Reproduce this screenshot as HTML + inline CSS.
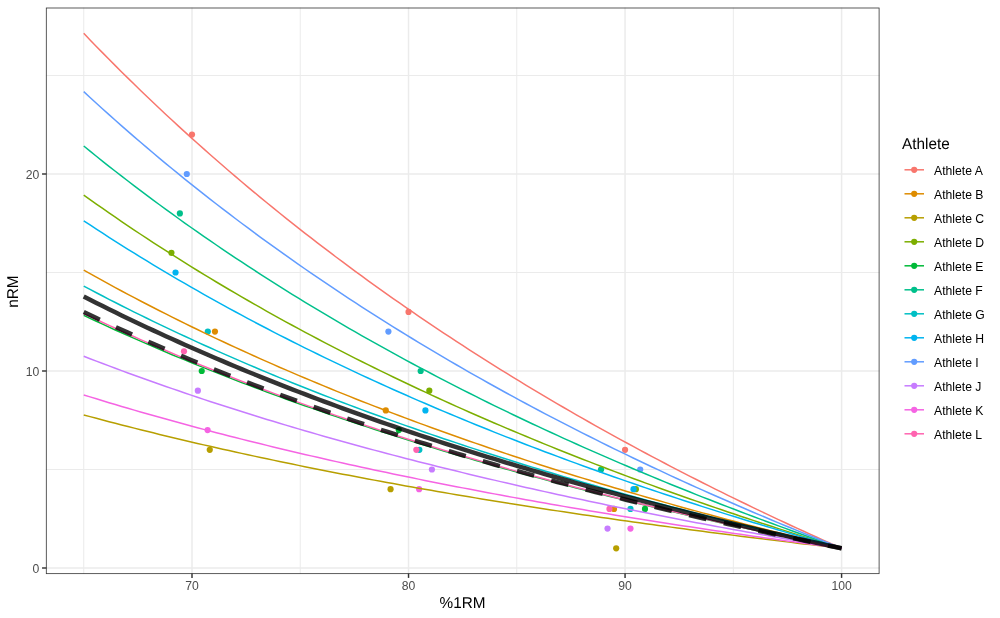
<!DOCTYPE html>
<html><head><meta charset="utf-8"><title>nRM vs %1RM</title>
<style>
html,body{margin:0;padding:0;background:#fff;}
svg{display:block;}
.ax{font-family:"Liberation Sans",Arial,sans-serif;font-size:12.2px;fill:#4D4D4D;}
.ti{text-rendering:geometricPrecision;font-family:"Liberation Sans",Arial,sans-serif;font-size:15.7px;fill:#000;}
.lg{font-family:"Liberation Sans",Arial,sans-serif;font-size:12.2px;fill:#000;}
</style></head><body>
<svg width="1000" height="618" viewBox="0 0 1000 618">
<rect x="0" y="0" width="1000" height="618" fill="#fff"/>
<line x1="83.74" y1="7.6" x2="83.74" y2="574.05" stroke="#EBEBEB" stroke-width="1"/>
<line x1="300.26" y1="7.6" x2="300.26" y2="574.05" stroke="#EBEBEB" stroke-width="1"/>
<line x1="516.79" y1="7.6" x2="516.79" y2="574.05" stroke="#EBEBEB" stroke-width="1"/>
<line x1="733.32" y1="7.6" x2="733.32" y2="574.05" stroke="#EBEBEB" stroke-width="1"/>
<line x1="45.9" y1="469.50" x2="879.5" y2="469.50" stroke="#EBEBEB" stroke-width="1"/>
<line x1="45.9" y1="272.50" x2="879.5" y2="272.50" stroke="#EBEBEB" stroke-width="1"/>
<line x1="45.9" y1="75.50" x2="879.5" y2="75.50" stroke="#EBEBEB" stroke-width="1"/>
<line x1="192.00" y1="7.6" x2="192.00" y2="574.05" stroke="#EBEBEB" stroke-width="1.5"/>
<line x1="408.53" y1="7.6" x2="408.53" y2="574.05" stroke="#EBEBEB" stroke-width="1.5"/>
<line x1="625.06" y1="7.6" x2="625.06" y2="574.05" stroke="#EBEBEB" stroke-width="1.5"/>
<line x1="841.59" y1="7.6" x2="841.59" y2="574.05" stroke="#EBEBEB" stroke-width="1.5"/>
<line x1="45.9" y1="568.00" x2="879.5" y2="568.00" stroke="#EBEBEB" stroke-width="1.5"/>
<line x1="45.9" y1="371.00" x2="879.5" y2="371.00" stroke="#EBEBEB" stroke-width="1.5"/>
<line x1="45.9" y1="174.00" x2="879.5" y2="174.00" stroke="#EBEBEB" stroke-width="1.5"/>
<circle cx="192.00" cy="134.60" r="3.1" fill="#F8766D"/>
<circle cx="408.53" cy="311.90" r="3.1" fill="#F8766D"/>
<circle cx="625.06" cy="449.80" r="3.1" fill="#F8766D"/>
<circle cx="214.95" cy="331.60" r="3.1" fill="#DE8C00"/>
<circle cx="385.79" cy="410.40" r="3.1" fill="#DE8C00"/>
<circle cx="614.02" cy="508.90" r="3.1" fill="#DE8C00"/>
<circle cx="209.76" cy="449.80" r="3.1" fill="#B79F00"/>
<circle cx="390.56" cy="489.20" r="3.1" fill="#B79F00"/>
<circle cx="616.18" cy="548.30" r="3.1" fill="#B79F00"/>
<circle cx="171.43" cy="252.80" r="3.1" fill="#7CAE00"/>
<circle cx="429.32" cy="390.70" r="3.1" fill="#7CAE00"/>
<circle cx="635.89" cy="489.20" r="3.1" fill="#7CAE00"/>
<circle cx="201.74" cy="371.00" r="3.1" fill="#00BA38"/>
<circle cx="398.79" cy="430.10" r="3.1" fill="#00BA38"/>
<circle cx="644.98" cy="508.90" r="3.1" fill="#00BA38"/>
<circle cx="179.87" cy="213.40" r="3.1" fill="#00C08B"/>
<circle cx="420.66" cy="371.00" r="3.1" fill="#00C08B"/>
<circle cx="601.03" cy="469.50" r="3.1" fill="#00C08B"/>
<circle cx="207.81" cy="331.60" r="3.1" fill="#00BFC4"/>
<circle cx="419.36" cy="449.80" r="3.1" fill="#00BFC4"/>
<circle cx="630.47" cy="508.90" r="3.1" fill="#00BFC4"/>
<circle cx="175.54" cy="272.50" r="3.1" fill="#00B4F0"/>
<circle cx="425.42" cy="410.40" r="3.1" fill="#00B4F0"/>
<circle cx="633.50" cy="489.20" r="3.1" fill="#00B4F0"/>
<circle cx="186.80" cy="174.00" r="3.1" fill="#619CFF"/>
<circle cx="388.39" cy="331.60" r="3.1" fill="#619CFF"/>
<circle cx="640.22" cy="469.50" r="3.1" fill="#619CFF"/>
<circle cx="197.85" cy="390.70" r="3.1" fill="#C77CFF"/>
<circle cx="431.92" cy="469.50" r="3.1" fill="#C77CFF"/>
<circle cx="607.52" cy="528.60" r="3.1" fill="#C77CFF"/>
<circle cx="207.59" cy="430.10" r="3.1" fill="#F564E3"/>
<circle cx="419.14" cy="489.20" r="3.1" fill="#F564E3"/>
<circle cx="630.47" cy="528.60" r="3.1" fill="#F564E3"/>
<circle cx="183.99" cy="351.30" r="3.1" fill="#FF64B0"/>
<circle cx="416.33" cy="449.80" r="3.1" fill="#FF64B0"/>
<circle cx="609.47" cy="508.90" r="3.1" fill="#FF64B0"/>
<path d="M83.74,33.34 L90.05,39.91 L96.37,46.43 L102.68,52.88 L109.00,59.28 L115.31,65.63 L121.63,71.92 L127.94,78.15 L134.26,84.33 L140.57,90.45 L146.89,96.53 L153.21,102.55 L159.52,108.52 L165.84,114.44 L172.15,120.31 L178.47,126.13 L184.78,131.90 L191.10,137.62 L197.41,143.30 L203.73,148.93 L210.04,154.51 L216.36,160.05 L222.68,165.54 L228.99,170.98 L235.31,176.39 L241.62,181.74 L247.94,187.06 L254.25,192.33 L260.57,197.57 L266.88,202.76 L273.20,207.90 L279.51,213.01 L285.83,218.08 L292.15,223.11 L298.46,228.10 L304.78,233.05 L311.09,237.96 L317.41,242.84 L323.72,247.67 L330.04,252.47 L336.35,257.24 L342.67,261.96 L348.98,266.66 L355.30,271.31 L361.62,275.93 L367.93,280.52 L374.25,285.07 L380.56,289.59 L386.88,294.08 L393.19,298.53 L399.51,302.95 L405.82,307.34 L412.14,311.70 L418.45,316.02 L424.77,320.32 L431.09,324.58 L437.40,328.81 L443.72,333.01 L450.03,337.18 L456.35,341.32 L462.66,345.44 L468.98,349.52 L475.29,353.58 L481.61,357.60 L487.92,361.60 L494.24,365.57 L500.56,369.52 L506.87,373.43 L513.19,377.32 L519.50,381.18 L525.82,385.02 L532.13,388.83 L538.45,392.62 L544.76,396.37 L551.08,400.11 L557.39,403.82 L563.71,407.50 L570.03,411.16 L576.34,414.79 L582.66,418.40 L588.97,421.99 L595.29,425.55 L601.60,429.09 L607.92,432.61 L614.23,436.10 L620.55,439.57 L626.86,443.02 L633.18,446.45 L639.50,449.85 L645.81,453.23 L652.13,456.60 L658.44,459.93 L664.76,463.25 L671.07,466.55 L677.39,469.83 L683.70,473.08 L690.02,476.32 L696.33,479.53 L702.65,482.73 L708.97,485.90 L715.28,489.06 L721.60,492.19 L727.91,495.31 L734.23,498.41 L740.54,501.49 L746.86,504.55 L753.17,507.59 L759.49,510.61 L765.80,513.61 L772.12,516.60 L778.44,519.57 L784.75,522.52 L791.07,525.45 L797.38,528.37 L803.70,531.27 L810.01,534.15 L816.33,537.01 L822.64,539.86 L828.96,542.69 L835.27,545.50 L841.59,548.30" fill="none" stroke="#F8766D" stroke-width="1.5"/>
<path d="M83.74,270.14 L90.05,273.69 L96.37,277.20 L102.68,280.69 L109.00,284.15 L115.31,287.58 L121.63,290.97 L127.94,294.34 L134.26,297.68 L140.57,300.99 L146.89,304.27 L153.21,307.52 L159.52,310.74 L165.84,313.94 L172.15,317.11 L178.47,320.26 L184.78,323.37 L191.10,326.46 L197.41,329.53 L203.73,332.57 L210.04,335.59 L216.36,338.58 L222.68,341.54 L228.99,344.49 L235.31,347.40 L241.62,350.30 L247.94,353.17 L254.25,356.02 L260.57,358.84 L266.88,361.65 L273.20,364.43 L279.51,367.19 L285.83,369.93 L292.15,372.64 L298.46,375.34 L304.78,378.01 L311.09,380.66 L317.41,383.30 L323.72,385.91 L330.04,388.50 L336.35,391.08 L342.67,393.63 L348.98,396.16 L355.30,398.68 L361.62,401.18 L367.93,403.65 L374.25,406.11 L380.56,408.56 L386.88,410.98 L393.19,413.38 L399.51,415.77 L405.82,418.14 L412.14,420.49 L418.45,422.83 L424.77,425.15 L431.09,427.45 L437.40,429.74 L443.72,432.01 L450.03,434.26 L456.35,436.50 L462.66,438.72 L468.98,440.93 L475.29,443.12 L481.61,445.29 L487.92,447.45 L494.24,449.60 L500.56,451.73 L506.87,453.84 L513.19,455.94 L519.50,458.03 L525.82,460.10 L532.13,462.16 L538.45,464.20 L544.76,466.23 L551.08,468.25 L557.39,470.25 L563.71,472.24 L570.03,474.22 L576.34,476.18 L582.66,478.13 L588.97,480.07 L595.29,482.00 L601.60,483.91 L607.92,485.81 L614.23,487.69 L620.55,489.57 L626.86,491.43 L633.18,493.28 L639.50,495.12 L645.81,496.95 L652.13,498.76 L658.44,500.57 L664.76,502.36 L671.07,504.14 L677.39,505.91 L683.70,507.67 L690.02,509.42 L696.33,511.15 L702.65,512.88 L708.97,514.59 L715.28,516.30 L721.60,517.99 L727.91,519.68 L734.23,521.35 L740.54,523.01 L746.86,524.67 L753.17,526.31 L759.49,527.94 L765.80,529.56 L772.12,531.18 L778.44,532.78 L784.75,534.37 L791.07,535.96 L797.38,537.53 L803.70,539.10 L810.01,540.65 L816.33,542.20 L822.64,543.74 L828.96,545.27 L835.27,546.79 L841.59,548.30" fill="none" stroke="#DE8C00" stroke-width="1.5"/>
<path d="M83.74,414.93 L90.05,416.63 L96.37,418.32 L102.68,419.99 L109.00,421.65 L115.31,423.29 L121.63,424.92 L127.94,426.54 L134.26,428.14 L140.57,429.72 L146.89,431.30 L153.21,432.85 L159.52,434.40 L165.84,435.93 L172.15,437.45 L178.47,438.96 L184.78,440.46 L191.10,441.94 L197.41,443.41 L203.73,444.87 L210.04,446.31 L216.36,447.75 L222.68,449.17 L228.99,450.58 L235.31,451.98 L241.62,453.37 L247.94,454.74 L254.25,456.11 L260.57,457.46 L266.88,458.81 L273.20,460.14 L279.51,461.46 L285.83,462.78 L292.15,464.08 L298.46,465.37 L304.78,466.65 L311.09,467.93 L317.41,469.19 L323.72,470.44 L330.04,471.68 L336.35,472.92 L342.67,474.14 L348.98,475.36 L355.30,476.56 L361.62,477.76 L367.93,478.95 L374.25,480.13 L380.56,481.30 L386.88,482.46 L393.19,483.61 L399.51,484.76 L405.82,485.89 L412.14,487.02 L418.45,488.14 L424.77,489.25 L431.09,490.36 L437.40,491.45 L443.72,492.54 L450.03,493.62 L456.35,494.70 L462.66,495.76 L468.98,496.82 L475.29,497.87 L481.61,498.91 L487.92,499.95 L494.24,500.98 L500.56,502.00 L506.87,503.01 L513.19,504.02 L519.50,505.02 L525.82,506.01 L532.13,507.00 L538.45,507.98 L544.76,508.95 L551.08,509.92 L557.39,510.88 L563.71,511.83 L570.03,512.78 L576.34,513.72 L582.66,514.66 L588.97,515.59 L595.29,516.51 L601.60,517.43 L607.92,518.34 L614.23,519.24 L620.55,520.14 L626.86,521.03 L633.18,521.92 L639.50,522.80 L645.81,523.68 L652.13,524.55 L658.44,525.41 L664.76,526.27 L671.07,527.13 L677.39,527.98 L683.70,528.82 L690.02,529.66 L696.33,530.49 L702.65,531.32 L708.97,532.14 L715.28,532.96 L721.60,533.77 L727.91,534.58 L734.23,535.38 L740.54,536.18 L746.86,536.97 L753.17,537.76 L759.49,538.54 L765.80,539.32 L772.12,540.09 L778.44,540.86 L784.75,541.62 L791.07,542.38 L797.38,543.14 L803.70,543.89 L810.01,544.63 L816.33,545.38 L822.64,546.11 L828.96,546.85 L835.27,547.58 L841.59,548.30" fill="none" stroke="#B79F00" stroke-width="1.5"/>
<path d="M83.74,195.08 L90.05,199.59 L96.37,204.06 L102.68,208.48 L109.00,212.87 L115.31,217.22 L121.63,221.54 L127.94,225.81 L134.26,230.05 L140.57,234.25 L146.89,238.42 L153.21,242.55 L159.52,246.64 L165.84,250.70 L172.15,254.73 L178.47,258.72 L184.78,262.68 L191.10,266.61 L197.41,270.50 L203.73,274.36 L210.04,278.19 L216.36,281.99 L222.68,285.75 L228.99,289.49 L235.31,293.20 L241.62,296.87 L247.94,300.52 L254.25,304.14 L260.57,307.72 L266.88,311.28 L273.20,314.81 L279.51,318.32 L285.83,321.80 L292.15,325.24 L298.46,328.67 L304.78,332.06 L311.09,335.43 L317.41,338.78 L323.72,342.09 L330.04,345.39 L336.35,348.65 L342.67,351.90 L348.98,355.11 L355.30,358.31 L361.62,361.48 L367.93,364.63 L374.25,367.75 L380.56,370.85 L386.88,373.93 L393.19,376.98 L399.51,380.01 L405.82,383.02 L412.14,386.01 L418.45,388.98 L424.77,391.92 L431.09,394.84 L437.40,397.75 L443.72,400.63 L450.03,403.49 L456.35,406.33 L462.66,409.15 L468.98,411.95 L475.29,414.73 L481.61,417.50 L487.92,420.24 L494.24,422.96 L500.56,425.67 L506.87,428.35 L513.19,431.02 L519.50,433.67 L525.82,436.30 L532.13,438.92 L538.45,441.51 L544.76,444.09 L551.08,446.65 L557.39,449.19 L563.71,451.72 L570.03,454.23 L576.34,456.72 L582.66,459.20 L588.97,461.66 L595.29,464.10 L601.60,466.53 L607.92,468.94 L614.23,471.34 L620.55,473.72 L626.86,476.09 L633.18,478.44 L639.50,480.77 L645.81,483.09 L652.13,485.40 L658.44,487.69 L664.76,489.96 L671.07,492.23 L677.39,494.47 L683.70,496.71 L690.02,498.93 L696.33,501.13 L702.65,503.32 L708.97,505.50 L715.28,507.66 L721.60,509.81 L727.91,511.95 L734.23,514.08 L740.54,516.19 L746.86,518.29 L753.17,520.37 L759.49,522.45 L765.80,524.51 L772.12,526.56 L778.44,528.59 L784.75,530.62 L791.07,532.63 L797.38,534.63 L803.70,536.62 L810.01,538.59 L816.33,540.56 L822.64,542.51 L828.96,544.45 L835.27,546.38 L841.59,548.30" fill="none" stroke="#7CAE00" stroke-width="1.5"/>
<path d="M83.74,315.35 L90.05,318.32 L96.37,321.27 L102.68,324.19 L109.00,327.08 L115.31,329.95 L121.63,332.80 L127.94,335.62 L134.26,338.41 L140.57,341.18 L146.89,343.93 L153.21,346.65 L159.52,349.36 L165.84,352.03 L172.15,354.69 L178.47,357.32 L184.78,359.93 L191.10,362.52 L197.41,365.09 L203.73,367.63 L210.04,370.16 L216.36,372.66 L222.68,375.15 L228.99,377.61 L235.31,380.06 L241.62,382.48 L247.94,384.89 L254.25,387.27 L260.57,389.64 L266.88,391.99 L273.20,394.31 L279.51,396.63 L285.83,398.92 L292.15,401.19 L298.46,403.45 L304.78,405.69 L311.09,407.91 L317.41,410.12 L323.72,412.30 L330.04,414.48 L336.35,416.63 L342.67,418.77 L348.98,420.89 L355.30,423.00 L361.62,425.09 L367.93,427.16 L374.25,429.22 L380.56,431.27 L386.88,433.30 L393.19,435.31 L399.51,437.31 L405.82,439.30 L412.14,441.27 L418.45,443.22 L424.77,445.17 L431.09,447.09 L437.40,449.01 L443.72,450.91 L450.03,452.80 L456.35,454.67 L462.66,456.53 L468.98,458.38 L475.29,460.21 L481.61,462.03 L487.92,463.84 L494.24,465.64 L500.56,467.42 L506.87,469.19 L513.19,470.95 L519.50,472.70 L525.82,474.44 L532.13,476.16 L538.45,477.87 L544.76,479.57 L551.08,481.26 L557.39,482.94 L563.71,484.61 L570.03,486.26 L576.34,487.90 L582.66,489.54 L588.97,491.16 L595.29,492.77 L601.60,494.37 L607.92,495.96 L614.23,497.54 L620.55,499.12 L626.86,500.68 L633.18,502.23 L639.50,503.76 L645.81,505.30 L652.13,506.82 L658.44,508.33 L664.76,509.83 L671.07,511.32 L677.39,512.80 L683.70,514.27 L690.02,515.74 L696.33,517.19 L702.65,518.64 L708.97,520.07 L715.28,521.50 L721.60,522.92 L727.91,524.33 L734.23,525.73 L740.54,527.12 L746.86,528.51 L753.17,529.88 L759.49,531.25 L765.80,532.61 L772.12,533.96 L778.44,535.30 L784.75,536.64 L791.07,537.96 L797.38,539.28 L803.70,540.59 L810.01,541.90 L816.33,543.19 L822.64,544.48 L828.96,545.76 L835.27,547.03 L841.59,548.30" fill="none" stroke="#00BA38" stroke-width="1.5"/>
<path d="M83.74,146.03 L90.05,151.16 L96.37,156.25 L102.68,161.29 L109.00,166.29 L115.31,171.25 L121.63,176.16 L127.94,181.03 L134.26,185.86 L140.57,190.64 L146.89,195.38 L153.21,200.09 L159.52,204.75 L165.84,209.38 L172.15,213.96 L178.47,218.51 L184.78,223.02 L191.10,227.49 L197.41,231.92 L203.73,236.32 L210.04,240.68 L216.36,245.00 L222.68,249.29 L228.99,253.55 L235.31,257.77 L241.62,261.96 L247.94,266.11 L254.25,270.23 L260.57,274.31 L266.88,278.37 L273.20,282.39 L279.51,286.38 L285.83,290.34 L292.15,294.27 L298.46,298.17 L304.78,302.03 L311.09,305.87 L317.41,309.68 L323.72,313.46 L330.04,317.21 L336.35,320.93 L342.67,324.62 L348.98,328.29 L355.30,331.92 L361.62,335.53 L367.93,339.12 L374.25,342.67 L380.56,346.20 L386.88,349.71 L393.19,353.19 L399.51,356.64 L405.82,360.07 L412.14,363.47 L418.45,366.85 L424.77,370.20 L431.09,373.53 L437.40,376.84 L443.72,380.12 L450.03,383.38 L456.35,386.62 L462.66,389.83 L468.98,393.02 L475.29,396.19 L481.61,399.33 L487.92,402.46 L494.24,405.56 L500.56,408.64 L506.87,411.70 L513.19,414.74 L519.50,417.75 L525.82,420.75 L532.13,423.73 L538.45,426.68 L544.76,429.62 L551.08,432.53 L557.39,435.43 L563.71,438.31 L570.03,441.17 L576.34,444.01 L582.66,446.83 L588.97,449.63 L595.29,452.41 L601.60,455.18 L607.92,457.92 L614.23,460.65 L620.55,463.37 L626.86,466.06 L633.18,468.74 L639.50,471.39 L645.81,474.04 L652.13,476.66 L658.44,479.27 L664.76,481.86 L671.07,484.44 L677.39,487.00 L683.70,489.54 L690.02,492.07 L696.33,494.58 L702.65,497.08 L708.97,499.56 L715.28,502.02 L721.60,504.47 L727.91,506.91 L734.23,509.32 L740.54,511.73 L746.86,514.12 L753.17,516.50 L759.49,518.86 L765.80,521.20 L772.12,523.54 L778.44,525.86 L784.75,528.16 L791.07,530.45 L797.38,532.73 L803.70,534.99 L810.01,537.24 L816.33,539.48 L822.64,541.71 L828.96,543.92 L835.27,546.11 L841.59,548.30" fill="none" stroke="#00C08B" stroke-width="1.5"/>
<path d="M83.74,286.09 L90.05,289.44 L96.37,292.76 L102.68,296.04 L109.00,299.30 L115.31,302.53 L121.63,305.73 L127.94,308.91 L134.26,312.05 L140.57,315.17 L146.89,318.27 L153.21,321.33 L159.52,324.37 L165.84,327.39 L172.15,330.37 L178.47,333.34 L184.78,336.28 L191.10,339.19 L197.41,342.08 L203.73,344.95 L210.04,347.79 L216.36,350.61 L222.68,353.40 L228.99,356.18 L235.31,358.93 L241.62,361.66 L247.94,364.36 L254.25,367.05 L260.57,369.71 L266.88,372.36 L273.20,374.98 L279.51,377.58 L285.83,380.16 L292.15,382.72 L298.46,385.26 L304.78,387.78 L311.09,390.28 L317.41,392.76 L323.72,395.23 L330.04,397.67 L336.35,400.10 L342.67,402.50 L348.98,404.89 L355.30,407.26 L361.62,409.62 L367.93,411.95 L374.25,414.27 L380.56,416.57 L386.88,418.86 L393.19,421.12 L399.51,423.37 L405.82,425.61 L412.14,427.83 L418.45,430.03 L424.77,432.21 L431.09,434.38 L437.40,436.54 L443.72,438.68 L450.03,440.80 L456.35,442.91 L462.66,445.01 L468.98,447.09 L475.29,449.15 L481.61,451.20 L487.92,453.24 L494.24,455.26 L500.56,457.27 L506.87,459.26 L513.19,461.24 L519.50,463.21 L525.82,465.16 L532.13,467.10 L538.45,469.03 L544.76,470.94 L551.08,472.84 L557.39,474.73 L563.71,476.61 L570.03,478.47 L576.34,480.32 L582.66,482.16 L588.97,483.99 L595.29,485.80 L601.60,487.60 L607.92,489.39 L614.23,491.17 L620.55,492.94 L626.86,494.69 L633.18,496.44 L639.50,498.17 L645.81,499.89 L652.13,501.61 L658.44,503.31 L664.76,505.00 L671.07,506.67 L677.39,508.34 L683.70,510.00 L690.02,511.65 L696.33,513.28 L702.65,514.91 L708.97,516.53 L715.28,518.13 L721.60,519.73 L727.91,521.32 L734.23,522.90 L740.54,524.46 L746.86,526.02 L753.17,527.57 L759.49,529.11 L765.80,530.64 L772.12,532.16 L778.44,533.67 L784.75,535.17 L791.07,536.67 L797.38,538.15 L803.70,539.63 L810.01,541.09 L816.33,542.55 L822.64,544.00 L828.96,545.44 L835.27,546.88 L841.59,548.30" fill="none" stroke="#00BFC4" stroke-width="1.5"/>
<path d="M83.74,220.79 L90.05,224.97 L96.37,229.11 L102.68,233.22 L109.00,237.29 L115.31,241.32 L121.63,245.32 L127.94,249.28 L134.26,253.21 L140.57,257.11 L146.89,260.97 L153.21,264.80 L159.52,268.60 L165.84,272.36 L172.15,276.10 L178.47,279.80 L184.78,283.47 L191.10,287.11 L197.41,290.72 L203.73,294.30 L210.04,297.85 L216.36,301.37 L222.68,304.86 L228.99,308.33 L235.31,311.76 L241.62,315.17 L247.94,318.55 L254.25,321.91 L260.57,325.23 L266.88,328.53 L273.20,331.81 L279.51,335.06 L285.83,338.28 L292.15,341.48 L298.46,344.65 L304.78,347.80 L311.09,350.92 L317.41,354.03 L323.72,357.10 L330.04,360.15 L336.35,363.18 L342.67,366.19 L348.98,369.18 L355.30,372.14 L361.62,375.08 L367.93,377.99 L374.25,380.89 L380.56,383.76 L386.88,386.62 L393.19,389.45 L399.51,392.26 L405.82,395.05 L412.14,397.82 L418.45,400.57 L424.77,403.30 L431.09,406.01 L437.40,408.70 L443.72,411.38 L450.03,414.03 L456.35,416.66 L462.66,419.28 L468.98,421.88 L475.29,424.46 L481.61,427.02 L487.92,429.56 L494.24,432.09 L500.56,434.59 L506.87,437.08 L513.19,439.56 L519.50,442.01 L525.82,444.45 L532.13,446.88 L538.45,449.28 L544.76,451.68 L551.08,454.05 L557.39,456.41 L563.71,458.75 L570.03,461.08 L576.34,463.39 L582.66,465.69 L588.97,467.97 L595.29,470.23 L601.60,472.48 L607.92,474.72 L614.23,476.94 L620.55,479.15 L626.86,481.34 L633.18,483.52 L639.50,485.69 L645.81,487.84 L652.13,489.98 L658.44,492.10 L664.76,494.21 L671.07,496.31 L677.39,498.39 L683.70,500.46 L690.02,502.52 L696.33,504.56 L702.65,506.60 L708.97,508.61 L715.28,510.62 L721.60,512.62 L727.91,514.60 L734.23,516.57 L740.54,518.53 L746.86,520.47 L753.17,522.41 L759.49,524.33 L765.80,526.24 L772.12,528.14 L778.44,530.03 L784.75,531.90 L791.07,533.77 L797.38,535.62 L803.70,537.47 L810.01,539.30 L816.33,541.12 L822.64,542.93 L828.96,544.73 L835.27,546.52 L841.59,548.30" fill="none" stroke="#00B4F0" stroke-width="1.5"/>
<path d="M83.74,91.65 L90.05,97.48 L96.37,103.26 L102.68,108.98 L109.00,114.66 L115.31,120.28 L121.63,125.86 L127.94,131.39 L134.26,136.87 L140.57,142.30 L146.89,147.68 L153.21,153.02 L159.52,158.32 L165.84,163.57 L172.15,168.77 L178.47,173.93 L184.78,179.05 L191.10,184.13 L197.41,189.16 L203.73,194.15 L210.04,199.10 L216.36,204.01 L222.68,208.88 L228.99,213.71 L235.31,218.50 L241.62,223.25 L247.94,227.97 L254.25,232.64 L260.57,237.28 L266.88,241.88 L273.20,246.45 L279.51,250.98 L285.83,255.47 L292.15,259.93 L298.46,264.36 L304.78,268.75 L311.09,273.10 L317.41,277.43 L323.72,281.71 L330.04,285.97 L336.35,290.20 L342.67,294.39 L348.98,298.55 L355.30,302.68 L361.62,306.78 L367.93,310.84 L374.25,314.88 L380.56,318.89 L386.88,322.87 L393.19,326.82 L399.51,330.74 L405.82,334.63 L412.14,338.49 L418.45,342.32 L424.77,346.13 L431.09,349.91 L437.40,353.66 L443.72,357.39 L450.03,361.09 L456.35,364.76 L462.66,368.41 L468.98,372.03 L475.29,375.63 L481.61,379.20 L487.92,382.74 L494.24,386.26 L500.56,389.76 L506.87,393.23 L513.19,396.68 L519.50,400.11 L525.82,403.51 L532.13,406.89 L538.45,410.24 L544.76,413.58 L551.08,416.89 L557.39,420.18 L563.71,423.44 L570.03,426.69 L576.34,429.91 L582.66,433.11 L588.97,436.29 L595.29,439.45 L601.60,442.59 L607.92,445.71 L614.23,448.81 L620.55,451.89 L626.86,454.94 L633.18,457.98 L639.50,461.00 L645.81,464.00 L652.13,466.98 L658.44,469.94 L664.76,472.88 L671.07,475.81 L677.39,478.71 L683.70,481.60 L690.02,484.47 L696.33,487.32 L702.65,490.15 L708.97,492.97 L715.28,495.77 L721.60,498.55 L727.91,501.31 L734.23,504.06 L740.54,506.79 L746.86,509.50 L753.17,512.20 L759.49,514.88 L765.80,517.54 L772.12,520.19 L778.44,522.82 L784.75,525.44 L791.07,528.04 L797.38,530.62 L803.70,533.19 L810.01,535.75 L816.33,538.29 L822.64,540.81 L828.96,543.32 L835.27,545.82 L841.59,548.30" fill="none" stroke="#619CFF" stroke-width="1.5"/>
<path d="M83.74,356.22 L90.05,358.68 L96.37,361.11 L102.68,363.51 L109.00,365.90 L115.31,368.27 L121.63,370.61 L127.94,372.94 L134.26,375.24 L140.57,377.53 L146.89,379.79 L153.21,382.04 L159.52,384.27 L165.84,386.47 L172.15,388.66 L178.47,390.83 L184.78,392.99 L191.10,395.12 L197.41,397.24 L203.73,399.34 L210.04,401.42 L216.36,403.48 L222.68,405.53 L228.99,407.56 L235.31,409.58 L241.62,411.58 L247.94,413.56 L254.25,415.53 L260.57,417.48 L266.88,419.41 L273.20,421.34 L279.51,423.24 L285.83,425.13 L292.15,427.01 L298.46,428.87 L304.78,430.71 L311.09,432.55 L317.41,434.36 L323.72,436.17 L330.04,437.96 L336.35,439.74 L342.67,441.50 L348.98,443.25 L355.30,444.99 L361.62,446.71 L367.93,448.42 L374.25,450.12 L380.56,451.80 L386.88,453.48 L393.19,455.14 L399.51,456.79 L405.82,458.42 L412.14,460.05 L418.45,461.66 L424.77,463.26 L431.09,464.85 L437.40,466.43 L443.72,468.00 L450.03,469.56 L456.35,471.10 L462.66,472.63 L468.98,474.16 L475.29,475.67 L481.61,477.17 L487.92,478.66 L494.24,480.14 L500.56,481.62 L506.87,483.08 L513.19,484.53 L519.50,485.97 L525.82,487.40 L532.13,488.82 L538.45,490.23 L544.76,491.63 L551.08,493.03 L557.39,494.41 L563.71,495.78 L570.03,497.15 L576.34,498.50 L582.66,499.85 L588.97,501.19 L595.29,502.52 L601.60,503.84 L607.92,505.15 L614.23,506.45 L620.55,507.75 L626.86,509.03 L633.18,510.31 L639.50,511.58 L645.81,512.84 L652.13,514.09 L658.44,515.34 L664.76,516.58 L671.07,517.81 L677.39,519.03 L683.70,520.24 L690.02,521.45 L696.33,522.65 L702.65,523.84 L708.97,525.03 L715.28,526.20 L721.60,527.37 L727.91,528.54 L734.23,529.69 L740.54,530.84 L746.86,531.98 L753.17,533.11 L759.49,534.24 L765.80,535.36 L772.12,536.48 L778.44,537.58 L784.75,538.68 L791.07,539.78 L797.38,540.87 L803.70,541.95 L810.01,543.02 L816.33,544.09 L822.64,545.15 L828.96,546.21 L835.27,547.26 L841.59,548.30" fill="none" stroke="#C77CFF" stroke-width="1.5"/>
<path d="M83.74,394.94 L90.05,396.89 L96.37,398.83 L102.68,400.76 L109.00,402.66 L115.31,404.55 L121.63,406.42 L127.94,408.28 L134.26,410.12 L140.57,411.94 L146.89,413.75 L153.21,415.55 L159.52,417.32 L165.84,419.09 L172.15,420.84 L178.47,422.57 L184.78,424.29 L191.10,425.99 L197.41,427.68 L203.73,429.36 L210.04,431.02 L216.36,432.67 L222.68,434.31 L228.99,435.93 L235.31,437.54 L241.62,439.13 L247.94,440.72 L254.25,442.29 L260.57,443.84 L266.88,445.39 L273.20,446.92 L279.51,448.44 L285.83,449.95 L292.15,451.45 L298.46,452.94 L304.78,454.41 L311.09,455.88 L317.41,457.33 L323.72,458.77 L330.04,460.20 L336.35,461.62 L342.67,463.02 L348.98,464.42 L355.30,465.81 L361.62,467.18 L367.93,468.55 L374.25,469.91 L380.56,471.25 L386.88,472.59 L393.19,473.91 L399.51,475.23 L405.82,476.54 L412.14,477.84 L418.45,479.12 L424.77,480.40 L431.09,481.67 L437.40,482.93 L443.72,484.18 L450.03,485.43 L456.35,486.66 L462.66,487.88 L468.98,489.10 L475.29,490.31 L481.61,491.51 L487.92,492.70 L494.24,493.88 L500.56,495.05 L506.87,496.22 L513.19,497.38 L519.50,498.53 L525.82,499.67 L532.13,500.81 L538.45,501.93 L544.76,503.05 L551.08,504.17 L557.39,505.27 L563.71,506.37 L570.03,507.46 L576.34,508.54 L582.66,509.61 L588.97,510.68 L595.29,511.74 L601.60,512.80 L607.92,513.84 L614.23,514.89 L620.55,515.92 L626.86,516.95 L633.18,517.97 L639.50,518.98 L645.81,519.99 L652.13,520.99 L658.44,521.98 L664.76,522.97 L671.07,523.95 L677.39,524.93 L683.70,525.90 L690.02,526.86 L696.33,527.82 L702.65,528.77 L708.97,529.72 L715.28,530.66 L721.60,531.59 L727.91,532.52 L734.23,533.44 L740.54,534.36 L746.86,535.27 L753.17,536.17 L759.49,537.07 L765.80,537.97 L772.12,538.86 L778.44,539.74 L784.75,540.62 L791.07,541.50 L797.38,542.36 L803.70,543.23 L810.01,544.08 L816.33,544.94 L822.64,545.79 L828.96,546.63 L835.27,547.47 L841.59,548.30" fill="none" stroke="#F564E3" stroke-width="1.5"/>
<path d="M83.74,313.57 L90.05,316.57 L96.37,319.54 L102.68,322.48 L109.00,325.40 L115.31,328.29 L121.63,331.16 L127.94,334.00 L134.26,336.81 L140.57,339.61 L146.89,342.38 L153.21,345.12 L159.52,347.84 L165.84,350.54 L172.15,353.21 L178.47,355.87 L184.78,358.50 L191.10,361.11 L197.41,363.69 L203.73,366.26 L210.04,368.80 L216.36,371.33 L222.68,373.83 L228.99,376.31 L235.31,378.78 L241.62,381.22 L247.94,383.64 L254.25,386.05 L260.57,388.43 L266.88,390.80 L273.20,393.14 L279.51,395.47 L285.83,397.78 L292.15,400.07 L298.46,402.35 L304.78,404.60 L311.09,406.84 L317.41,409.06 L323.72,411.27 L330.04,413.46 L336.35,415.63 L342.67,417.78 L348.98,419.92 L355.30,422.05 L361.62,424.15 L367.93,426.24 L374.25,428.32 L380.56,430.38 L386.88,432.42 L393.19,434.45 L399.51,436.47 L405.82,438.47 L412.14,440.45 L418.45,442.42 L424.77,444.38 L431.09,446.32 L437.40,448.25 L443.72,450.17 L450.03,452.07 L456.35,453.96 L462.66,455.83 L468.98,457.69 L475.29,459.54 L481.61,461.38 L487.92,463.20 L494.24,465.01 L500.56,466.81 L506.87,468.59 L513.19,470.37 L519.50,472.13 L525.82,473.87 L532.13,475.61 L538.45,477.34 L544.76,479.05 L551.08,480.75 L557.39,482.44 L563.71,484.12 L570.03,485.79 L576.34,487.45 L582.66,489.09 L588.97,490.73 L595.29,492.35 L601.60,493.96 L607.92,495.57 L614.23,497.16 L620.55,498.74 L626.86,500.31 L633.18,501.87 L639.50,503.43 L645.81,504.97 L652.13,506.50 L658.44,508.02 L664.76,509.53 L671.07,511.04 L677.39,512.53 L683.70,514.01 L690.02,515.49 L696.33,516.95 L702.65,518.41 L708.97,519.86 L715.28,521.30 L721.60,522.73 L727.91,524.15 L734.23,525.56 L740.54,526.96 L746.86,528.36 L753.17,529.74 L759.49,531.12 L765.80,532.49 L772.12,533.85 L778.44,535.20 L784.75,536.55 L791.07,537.89 L797.38,539.21 L803.70,540.54 L810.01,541.85 L816.33,543.15 L822.64,544.45 L828.96,545.74 L835.27,547.02 L841.59,548.30" fill="none" stroke="#FF64B0" stroke-width="1.5"/>
<path d="M83.74,296.53 L90.05,299.75 L96.37,302.93 L102.68,306.09 L109.00,309.22 L115.31,312.32 L121.63,315.39 L127.94,318.44 L134.26,321.46 L140.57,324.46 L146.89,327.43 L153.21,330.37 L159.52,333.29 L165.84,336.18 L172.15,339.05 L178.47,341.90 L184.78,344.72 L191.10,347.52 L197.41,350.29 L203.73,353.04 L210.04,355.77 L216.36,358.48 L222.68,361.16 L228.99,363.83 L235.31,366.47 L241.62,369.09 L247.94,371.69 L254.25,374.27 L260.57,376.82 L266.88,379.36 L273.20,381.88 L279.51,384.38 L285.83,386.85 L292.15,389.31 L298.46,391.75 L304.78,394.17 L311.09,396.57 L317.41,398.96 L323.72,401.32 L330.04,403.67 L336.35,406.00 L342.67,408.31 L348.98,410.60 L355.30,412.88 L361.62,415.14 L367.93,417.38 L374.25,419.61 L380.56,421.82 L386.88,424.01 L393.19,426.19 L399.51,428.35 L405.82,430.49 L412.14,432.62 L418.45,434.74 L424.77,436.84 L431.09,438.92 L437.40,440.99 L443.72,443.04 L450.03,445.08 L456.35,447.11 L462.66,449.12 L468.98,451.12 L475.29,453.10 L481.61,455.07 L487.92,457.02 L494.24,458.96 L500.56,460.89 L506.87,462.81 L513.19,464.71 L519.50,466.60 L525.82,468.47 L532.13,470.33 L538.45,472.18 L544.76,474.02 L551.08,475.85 L557.39,477.66 L563.71,479.46 L570.03,481.25 L576.34,483.03 L582.66,484.79 L588.97,486.55 L595.29,488.29 L601.60,490.02 L607.92,491.74 L614.23,493.45 L620.55,495.14 L626.86,496.83 L633.18,498.50 L639.50,500.17 L645.81,501.82 L652.13,503.46 L658.44,505.10 L664.76,506.72 L671.07,508.33 L677.39,509.93 L683.70,511.53 L690.02,513.11 L696.33,514.68 L702.65,516.24 L708.97,517.79 L715.28,519.34 L721.60,520.87 L727.91,522.39 L734.23,523.91 L740.54,525.41 L746.86,526.91 L753.17,528.39 L759.49,529.87 L765.80,531.34 L772.12,532.80 L778.44,534.25 L784.75,535.70 L791.07,537.13 L797.38,538.55 L803.70,539.97 L810.01,541.38 L816.33,542.78 L822.64,544.17 L828.96,545.56 L835.27,546.93 L841.59,548.30" fill="none" stroke="#000" stroke-opacity="0.8" stroke-width="4.45"/>
<path d="M83.74,312.10 L90.05,315.11 L96.37,318.10 L102.68,321.06 L109.00,324.00 L115.31,326.91 L121.63,329.79 L127.94,332.65 L134.26,335.48 L140.57,338.29 L146.89,341.08 L153.21,343.84 L159.52,346.58 L165.84,349.29 L172.15,351.99 L178.47,354.66 L184.78,357.30 L191.10,359.93 L197.41,362.53 L203.73,365.11 L210.04,367.67 L216.36,370.21 L222.68,372.73 L228.99,375.23 L235.31,377.71 L241.62,380.17 L247.94,382.61 L254.25,385.02 L260.57,387.42 L266.88,389.80 L273.20,392.17 L279.51,394.51 L285.83,396.83 L292.15,399.14 L298.46,401.43 L304.78,403.70 L311.09,405.95 L317.41,408.19 L323.72,410.41 L330.04,412.61 L336.35,414.79 L342.67,416.96 L348.98,419.11 L355.30,421.25 L361.62,423.37 L367.93,425.47 L374.25,427.56 L380.56,429.64 L386.88,431.69 L393.19,433.74 L399.51,435.76 L405.82,437.78 L412.14,439.77 L418.45,441.76 L424.77,443.73 L431.09,445.68 L437.40,447.62 L443.72,449.55 L450.03,451.46 L456.35,453.36 L462.66,455.25 L468.98,457.12 L475.29,458.98 L481.61,460.83 L487.92,462.66 L494.24,464.49 L500.56,466.29 L506.87,468.09 L513.19,469.88 L519.50,471.65 L525.82,473.41 L532.13,475.15 L538.45,476.89 L544.76,478.61 L551.08,480.33 L557.39,482.03 L563.71,483.72 L570.03,485.40 L576.34,487.06 L582.66,488.72 L588.97,490.36 L595.29,492.00 L601.60,493.62 L607.92,495.23 L614.23,496.84 L620.55,498.43 L626.86,500.01 L633.18,501.58 L639.50,503.14 L645.81,504.69 L652.13,506.24 L658.44,507.77 L664.76,509.29 L671.07,510.80 L677.39,512.31 L683.70,513.80 L690.02,515.28 L696.33,516.76 L702.65,518.22 L708.97,519.68 L715.28,521.13 L721.60,522.56 L727.91,523.99 L734.23,525.41 L740.54,526.83 L746.86,528.23 L753.17,529.63 L759.49,531.01 L765.80,532.39 L772.12,533.76 L778.44,535.12 L784.75,536.47 L791.07,537.82 L797.38,539.16 L803.70,540.49 L810.01,541.81 L816.33,543.12 L822.64,544.43 L828.96,545.73 L835.27,547.02 L841.59,548.30" fill="none" stroke="#000" stroke-opacity="0.8" stroke-width="4.45" stroke-dasharray="17.77 17.77"/>
<rect x="46.30" y="8.00" width="832.80" height="565.65" fill="none" stroke="#333333" stroke-width="0.8"/>
<line x1="42.05" y1="568.00" x2="46.4" y2="568.00" stroke="#333333" stroke-width="1.45"/>
<text x="39.2" y="573.30" text-anchor="end" class="ax">0</text>
<line x1="42.05" y1="371.00" x2="46.4" y2="371.00" stroke="#333333" stroke-width="1.45"/>
<text x="39.2" y="376.30" text-anchor="end" class="ax">10</text>
<line x1="42.05" y1="174.00" x2="46.4" y2="174.00" stroke="#333333" stroke-width="1.45"/>
<text x="39.2" y="179.30" text-anchor="end" class="ax">20</text>
<line x1="192.00" y1="573.55" x2="192.00" y2="577.90" stroke="#333333" stroke-width="1.45"/>
<text x="192.00" y="590.1" text-anchor="middle" class="ax">70</text>
<line x1="408.53" y1="573.55" x2="408.53" y2="577.90" stroke="#333333" stroke-width="1.45"/>
<text x="408.53" y="590.1" text-anchor="middle" class="ax">80</text>
<line x1="625.06" y1="573.55" x2="625.06" y2="577.90" stroke="#333333" stroke-width="1.45"/>
<text x="625.06" y="590.1" text-anchor="middle" class="ax">90</text>
<line x1="841.59" y1="573.55" x2="841.59" y2="577.90" stroke="#333333" stroke-width="1.45"/>
<text x="841.59" y="590.1" text-anchor="middle" class="ax">100</text>
<text transform="translate(462.6,607.9) scale(0.977,1)" text-anchor="middle" class="ti">%1RM</text>
<text transform="translate(18.0,291.6) rotate(-90) scale(0.977,1)" text-anchor="middle" class="ti">nRM</text>
<text transform="translate(902,148.9) scale(0.977,1)" class="ti">Athlete</text>
<line x1="904.5" y1="169.80" x2="924" y2="169.80" stroke="#F8766D" stroke-width="1.5"/>
<circle cx="914.2" cy="169.80" r="3.1" fill="#F8766D"/>
<text x="934" y="174.80" class="lg">Athlete A</text>
<line x1="904.5" y1="193.80" x2="924" y2="193.80" stroke="#DE8C00" stroke-width="1.5"/>
<circle cx="914.2" cy="193.80" r="3.1" fill="#DE8C00"/>
<text x="934" y="198.80" class="lg">Athlete B</text>
<line x1="904.5" y1="217.80" x2="924" y2="217.80" stroke="#B79F00" stroke-width="1.5"/>
<circle cx="914.2" cy="217.80" r="3.1" fill="#B79F00"/>
<text x="934" y="222.80" class="lg">Athlete C</text>
<line x1="904.5" y1="241.80" x2="924" y2="241.80" stroke="#7CAE00" stroke-width="1.5"/>
<circle cx="914.2" cy="241.80" r="3.1" fill="#7CAE00"/>
<text x="934" y="246.80" class="lg">Athlete D</text>
<line x1="904.5" y1="265.80" x2="924" y2="265.80" stroke="#00BA38" stroke-width="1.5"/>
<circle cx="914.2" cy="265.80" r="3.1" fill="#00BA38"/>
<text x="934" y="270.80" class="lg">Athlete E</text>
<line x1="904.5" y1="289.80" x2="924" y2="289.80" stroke="#00C08B" stroke-width="1.5"/>
<circle cx="914.2" cy="289.80" r="3.1" fill="#00C08B"/>
<text x="934" y="294.80" class="lg">Athlete F</text>
<line x1="904.5" y1="313.80" x2="924" y2="313.80" stroke="#00BFC4" stroke-width="1.5"/>
<circle cx="914.2" cy="313.80" r="3.1" fill="#00BFC4"/>
<text x="934" y="318.80" class="lg">Athlete G</text>
<line x1="904.5" y1="337.80" x2="924" y2="337.80" stroke="#00B4F0" stroke-width="1.5"/>
<circle cx="914.2" cy="337.80" r="3.1" fill="#00B4F0"/>
<text x="934" y="342.80" class="lg">Athlete H</text>
<line x1="904.5" y1="361.80" x2="924" y2="361.80" stroke="#619CFF" stroke-width="1.5"/>
<circle cx="914.2" cy="361.80" r="3.1" fill="#619CFF"/>
<text x="934" y="366.80" class="lg">Athlete I</text>
<line x1="904.5" y1="385.80" x2="924" y2="385.80" stroke="#C77CFF" stroke-width="1.5"/>
<circle cx="914.2" cy="385.80" r="3.1" fill="#C77CFF"/>
<text x="934" y="390.80" class="lg">Athlete J</text>
<line x1="904.5" y1="409.80" x2="924" y2="409.80" stroke="#F564E3" stroke-width="1.5"/>
<circle cx="914.2" cy="409.80" r="3.1" fill="#F564E3"/>
<text x="934" y="414.80" class="lg">Athlete K</text>
<line x1="904.5" y1="433.80" x2="924" y2="433.80" stroke="#FF64B0" stroke-width="1.5"/>
<circle cx="914.2" cy="433.80" r="3.1" fill="#FF64B0"/>
<text x="934" y="438.80" class="lg">Athlete L</text>
</svg>
</body></html>
